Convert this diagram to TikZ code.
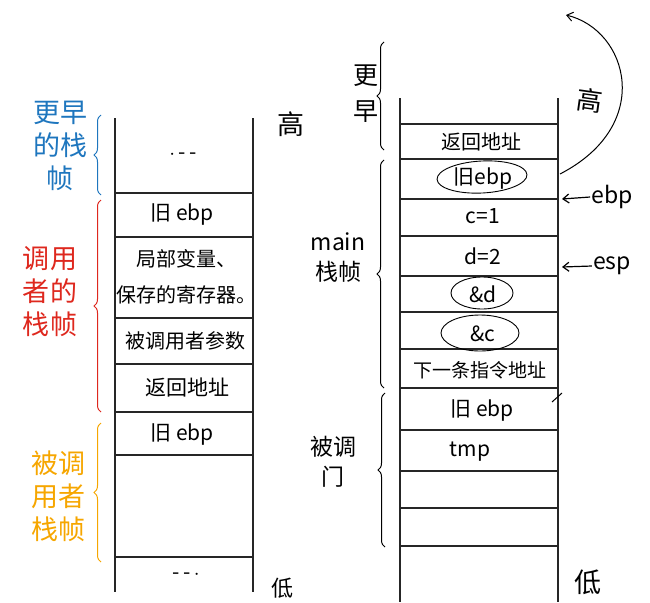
\documentclass[tikz,border=0pt]{standalone}
\usepackage{fontspec}
\setmainfont{Noto Sans CJK SC}
\newfontfamily\cjk{Noto Sans CJK SC}
\usetikzlibrary{decorations.pathreplacing,shapes.geometric,arrows.meta}
\definecolor{hblue}{RGB}{30,118,190}
\definecolor{hred}{RGB}{222,40,30}
\definecolor{horange}{RGB}{246,166,0}
\tikzset{
  stk/.style={line width=1.6pt, black!85},
  cell/.style={font=\cjk\fontsize{21}{25}\selectfont, inner sep=1pt},
  smallcell/.style={font=\cjk\fontsize{19}{22}\selectfont, inner sep=1pt},
  lbl/.style={font=\cjk\fontsize{27}{33}\selectfont, align=center, inner sep=1pt},
  mlbl/.style={font=\cjk\fontsize{23}{30}\selectfont, align=center, inner sep=1pt},
  brc/.style={decorate, decoration={brace, amplitude=7pt}, line width=1pt},
  circ/.style={draw, ellipse, line width=0.9pt, inner sep=0pt, minimum width=74pt, minimum height=30pt},
  arr/.style={-{Straight Barb[length=6pt,width=9pt]}, line width=1.2pt}
}
\begin{document}
\begin{tikzpicture}[x=1pt,y=-1pt]
\useasboundingbox (0,0) rectangle (650,602);

% ---------- left stack ----------
\draw[stk] (115,118) -- (115,592);
\draw[stk] (253,118) -- (253,592);
\foreach \yy in {193,237,318,364,412,455,557}
  \draw[stk] (115,\yy) -- (253,\yy);
\node[cell] (ldots1) at (183,155) {$\cdot$\,-\,-};
\node[cell] (loldebp1) at (182,215) {旧 ebp};
\node[cell, align=center, font=\cjk\fontsize{20}{36}\selectfont] (llocal) at (186,277) {局部变量、\\保存的寄存器。};
\node[cell, font=\cjk\fontsize{20}{24}\selectfont] (lparam) at (185,341) {被调用者参数};
\node[cell] (lret) at (187,388) {返回地址};
\node[cell] (loldebp2) at (182,434) {旧 ebp};
\node[cell] (ldots2) at (186,575) {-\,-\,$\cdot$};

% left labels and braces
\node[lbl, text=hblue] (learlier) at (60,146) {更早\\的栈\\帧};
\draw[brc, hblue] (101,195) -- (101,115);
\node[lbl, text=hred] (lcaller) at (50,292) {调用\\者的\\栈帧};
\draw[brc, hred] (101,412) -- (101,200);
\node[lbl, text=horange] (lcallee) at (58,496) {被调\\用者\\栈帧};
\draw[brc, horange] (101,562) -- (101,423);

\node[lbl] (lhigh) at (291,124) {高};
\node[lbl, font=\cjk\fontsize{22}{26}\selectfont] (llow) at (282,588) {低};

% ---------- right stack ----------
\draw[stk] (400,98) -- (400,602);
\draw[stk] (558,98) -- (558,602);
\foreach \yy in {124,159,199,236,276,312,349,388,430,471,508,546}
  \draw[stk] (400,\yy) -- (558,\yy);
\node[cell, font=\cjk\fontsize{20}{24}\selectfont] (rret) at (481,142) {返回地址};
\node[cell] (roldebp) at (483,179) {旧ebp};
\node[circ, minimum width=90pt, minimum height=32pt, rotate=3] (roldebpc) at (482,177) {};
\node[cell] (rc) at (483,216) {c=1};
\node[cell] (rd) at (483,256) {d=2};
\node[cell] (rad) at (483,294) {\&d};
\node[circ, minimum width=62pt, minimum height=32pt] (radc) at (482,293) {};
\node[cell] (rac) at (483,334) {\&c};
\node[circ, minimum width=78pt, minimum height=36pt] (racc) at (480,333) {};
\node[smallcell] (rnext) at (480,370) {下一条指令地址};
\node[cell] (roldebp2) at (482,410) {旧 ebp};
\node[cell] (rtmp) at (470,452) {tmp};

% right labels and braces
\node[lbl, font=\cjk\fontsize{25}{36}\selectfont] (rearlier) at (366,94) {更\\早};
\draw[brc, black] (384,150) -- (384,42);
\node[mlbl] (rmain) at (338,258) {main\\栈帧};
\draw[brc, black] (384,388) -- (384,160);
\node[mlbl] (rcallee) at (333,462) {被调\\门};
\draw[brc, black] (385,547) -- (385,393);

\node[lbl] (rlow) at (588,582) {低};

% pointers
\node[mlbl] (pebp) at (612,197) {ebp};
\coordinate (pebpt) at (562,199);
\draw[arr] (pebp.west) -- (pebpt);
\node[mlbl] (pesp) at (612,266) {esp};
\coordinate (pespt) at (562,267);
\draw[arr] (pesp.west) -- (pespt);

% curved arrow with "高"
\coordinate (cstart) at (560,174);
\coordinate (cend) at (566,15);
\draw[arr, line width=1pt] (cstart) .. controls (655,125) and (628,30) .. (cend);
\node[lbl, rotate=-8, font=\cjk\fontsize{26}{30}\selectfont] (rhigh) at (590,100) {高};

% small tick
\coordinate (tk1) at (552,402);
\coordinate (tk2) at (562,393);
\draw[line width=1pt] (tk1) -- (tk2);
\end{tikzpicture}
\end{document}
